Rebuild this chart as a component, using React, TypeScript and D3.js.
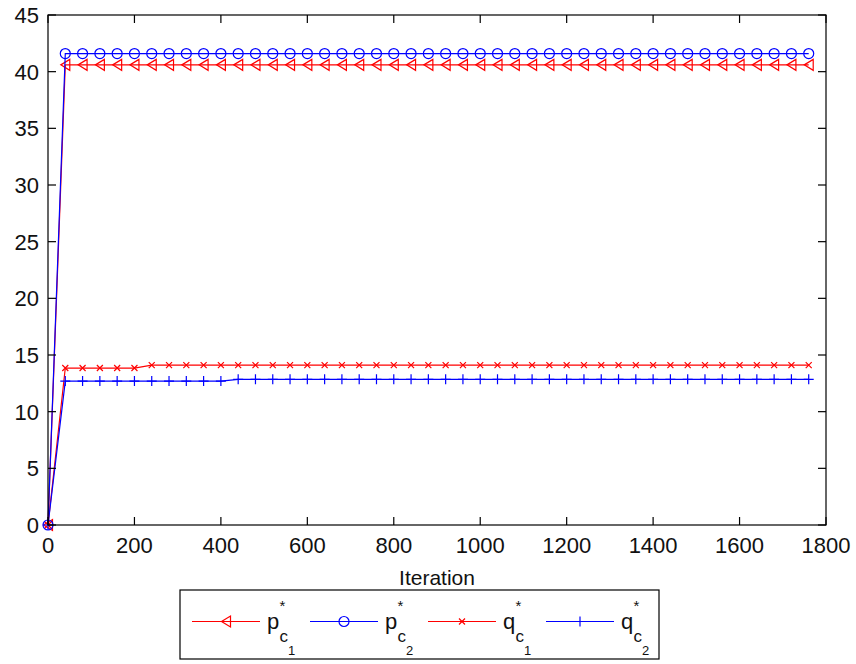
import React from "react";
import * as d3 from "d3";

const iterations = [
  0, 40, 80, 120, 160, 200, 240, 280, 320, 360, 400, 440, 480, 520, 560, 600,
  640, 680, 720, 760, 800, 840, 880, 920, 960, 1000, 1040, 1080, 1120, 1160,
  1200, 1240, 1280, 1320, 1360, 1400, 1440, 1480, 1520, 1560, 1600, 1640, 1680,
  1720, 1760,
];
const pC1 = [
  0, 40.6, 40.6, 40.6, 40.6, 40.6, 40.6, 40.6, 40.6, 40.6, 40.6, 40.6, 40.6,
  40.6, 40.6, 40.6, 40.6, 40.6, 40.6, 40.6, 40.6, 40.6, 40.6, 40.6, 40.6, 40.6,
  40.6, 40.6, 40.6, 40.6, 40.6, 40.6, 40.6, 40.6, 40.6, 40.6, 40.6, 40.6, 40.6,
  40.6, 40.6, 40.6, 40.6, 40.6, 40.6,
];
const pC2 = [
  0, 41.6, 41.6, 41.6, 41.6, 41.6, 41.6, 41.6, 41.6, 41.6, 41.6, 41.6, 41.6,
  41.6, 41.6, 41.6, 41.6, 41.6, 41.6, 41.6, 41.6, 41.6, 41.6, 41.6, 41.6, 41.6,
  41.6, 41.6, 41.6, 41.6, 41.6, 41.6, 41.6, 41.6, 41.6, 41.6, 41.6, 41.6, 41.6,
  41.6, 41.6, 41.6, 41.6, 41.6, 41.6,
];
const qC1 = [
  0, 13.85, 13.85, 13.85, 13.85, 13.85, 14.1, 14.1, 14.1, 14.1, 14.1, 14.1,
  14.1, 14.1, 14.1, 14.1, 14.1, 14.1, 14.1, 14.1, 14.1, 14.1, 14.1, 14.1, 14.1,
  14.1, 14.1, 14.1, 14.1, 14.1, 14.1, 14.1, 14.1, 14.1, 14.1, 14.1, 14.1, 14.1,
  14.1, 14.1, 14.1, 14.1, 14.1, 14.1, 14.1,
];
const qC2 = [
  0, 12.7, 12.7, 12.7, 12.7, 12.7, 12.7, 12.7, 12.7, 12.7, 12.7, 12.85, 12.85,
  12.85, 12.85, 12.85, 12.85, 12.85, 12.85, 12.85, 12.85, 12.85, 12.85, 12.85,
  12.85, 12.85, 12.85, 12.85, 12.85, 12.85, 12.85, 12.85, 12.85, 12.85, 12.85,
  12.85, 12.85, 12.85, 12.85, 12.85, 12.85, 12.85, 12.85, 12.85, 12.85,
];
const xTicks = [0, 200, 400, 600, 800, 1000, 1200, 1400, 1600, 1800];
const yTicks = [0, 5, 10, 15, 20, 25, 30, 35, 40, 45];
const legendBase = ["p", "p", "q", "q"];
const legendSub = ["1", "2", "1", "2"];
const xLabel = "Iteration";

const W = 856;
const H = 664;
const M = { left: 48, right: 826, top: 15, bottom: 525 };
const FONT = "'Liberation Sans', Arial, Helvetica, sans-serif";
const RED = "#ff0000";
const BLUE = "#0000ff";

type MarkerKind = "tri" | "circle" | "x" | "plus";

function markerPath(kind: MarkerKind, x: number, y: number): string {
  switch (kind) {
    case "tri":
      return `M${x - 4.5},${y} L${x + 4.5},${y - 5.5} L${x + 4.5},${y + 5.5} Z`;
    case "circle":
      return `M${x - 5},${y} a5,5 0 1,0 10,0 a5,5 0 1,0 -10,0`;
    case "x":
      return `M${x - 3},${y - 3} L${x + 3},${y + 3} M${x - 3},${y + 3} L${x + 3},${y - 3}`;
    case "plus":
      return `M${x - 5},${y} L${x + 5},${y} M${x},${y - 5} L${x},${y + 5}`;
  }
}

const series = [
  { values: pC1, color: RED, marker: "tri" as MarkerKind },
  { values: pC2, color: BLUE, marker: "circle" as MarkerKind },
  { values: qC1, color: RED, marker: "x" as MarkerKind },
  { values: qC2, color: BLUE, marker: "plus" as MarkerKind },
];

export default function App() {
  const x = d3.scaleLinear().domain([0, 1800]).range([M.left, M.right]);
  const y = d3.scaleLinear().domain([0, 45]).range([M.bottom, M.top]);
  const line = d3
    .line<[number, number]>()
    .x((d) => x(d[0]))
    .y((d) => y(d[1]));

  const tick = 8;
  const legend = { x0: 180, x1: 659, y0: 590, y1: 659 };
  const entryStart = 192;
  const entryStep = 118;
  const ly = 621.5;

  return (
    <div style={{ position: "absolute", left: 0, top: 0 }}>
      <svg width={W} height={H} style={{ display: "block", background: "#fff" }}>
        <rect x={0} y={0} width={W} height={H} fill="#fff" />
        {series.map((s, si) => {
          const pts = iterations.map((it, i) => [it, s.values[i]] as [number, number]);
          return (
            <g key={si}>
              <path d={line(pts) || ""} fill="none" stroke={s.color} strokeWidth={1.2} />
              {pts.map((p, i) => (
                <path
                  key={i}
                  d={markerPath(s.marker, x(p[0]), y(p[1]))}
                  fill="none"
                  stroke={s.color}
                  strokeWidth={1.2}
                />
              ))}
            </g>
          );
        })}
        <rect
          x={M.left}
          y={M.top}
          width={M.right - M.left}
          height={M.bottom - M.top}
          fill="none"
          stroke="#000"
          strokeWidth={1.2}
        />
        {xTicks.map((t) => (
          <g key={"x" + t}>
            <line x1={x(t)} x2={x(t)} y1={M.bottom} y2={M.bottom - tick} stroke="#000" strokeWidth={1.2} />
            <line x1={x(t)} x2={x(t)} y1={M.top} y2={M.top + tick} stroke="#000" strokeWidth={1.2} />
            <text x={x(t)} y={553} textAnchor="middle" fontFamily={FONT} fontSize={22} fill="#111">
              {t}
            </text>
          </g>
        ))}
        {yTicks.map((t) => (
          <g key={"y" + t}>
            <line x1={M.left} x2={M.left + tick} y1={y(t)} y2={y(t)} stroke="#000" strokeWidth={1.2} />
            <line x1={M.right} x2={M.right - tick} y1={y(t)} y2={y(t)} stroke="#000" strokeWidth={1.2} />
            <text x={39} y={y(t)} dy="0.36em" textAnchor="end" fontFamily={FONT} fontSize={22} fill="#111">
              {t}
            </text>
          </g>
        ))}
        <text
          x={(M.left + M.right) / 2}
          y={585}
          textAnchor="middle"
          fontFamily={FONT}
          fontSize={21}
          fill="#111"
        >
          {xLabel}
        </text>
        <rect
          x={legend.x0}
          y={legend.y0}
          width={legend.x1 - legend.x0}
          height={legend.y1 - legend.y0}
          fill="#fff"
          stroke="#000"
          strokeWidth={1.2}
        />
        {series.map((s, i) => {
          const x0 = entryStart + i * entryStep;
          const tx = x0 + 75;
          return (
            <g key={"l" + i}>
              <line x1={x0} x2={x0 + 68} y1={ly} y2={ly} stroke={s.color} strokeWidth={1.2} />
              <path d={markerPath(s.marker, x0 + 34, ly)} fill="none" stroke={s.color} strokeWidth={1.2} />
              <text x={tx} y={629} fontFamily={FONT} fontSize={22} fill="#111">
                {legendBase[i]}
              </text>
              <text x={tx + 12.5} y={611} fontFamily={FONT} fontSize={15} fill="#111">
                *
              </text>
              <text x={tx + 12.5} y={642} fontFamily={FONT} fontSize={17} fill="#111">
                c
              </text>
              <text x={tx + 21} y={655} fontFamily={FONT} fontSize={13} fill="#111">
                {legendSub[i]}
              </text>
            </g>
          );
        })}
      </svg>
    </div>
  );
}
